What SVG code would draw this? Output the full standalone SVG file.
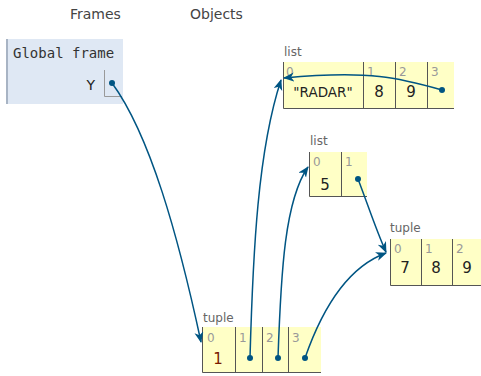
<svg xmlns="http://www.w3.org/2000/svg" width="481" height="376" viewBox="0 0 481 376">
<style>
.hdr{font-family:"DejaVu Sans",Verdana,sans-serif;font-size:14px;fill:#444}
.fname{font-family:"DejaVu Sans Mono","Liberation Mono",monospace;font-size:14px;fill:#333}
.var{font-family:"DejaVu Sans",Verdana,sans-serif;font-size:14px;fill:#222}
.tlabel{font-family:"DejaVu Sans",Verdana,sans-serif;font-size:12px;fill:#666}
.idx{font-family:"DejaVu Sans",Verdana,sans-serif;font-size:12px;fill:#999}
.val{font-family:"DejaVu Sans",Verdana,sans-serif;font-size:15px;fill:#222;text-anchor:middle}
.obj{fill:#ffffc6}
.edge{stroke:#555;stroke-width:1;fill:none}
.conn{stroke:#005583;stroke-width:1.5;fill:none;marker-end:url(#ah)}
.dot{fill:#005583}
</style>
<defs>
<marker id="ah" markerUnits="userSpaceOnUse" markerWidth="12" markerHeight="10" refX="10" refY="4.5" orient="auto">
<path d="M0,0 L11,4.5 L0,9 L3,4.5 z" fill="#005583"/>
</marker>
</defs>
<text class="hdr" x="70" y="19">Frames</text>
<text class="hdr" x="190" y="19">Objects</text>

<g id="global-frame">
<rect x="6" y="39" width="117" height="65" fill="#dfe8f4"/>
<line x1="7" y1="39" x2="7" y2="104" stroke="#a8b4c4" stroke-width="2"/>
<text class="fname" x="13" y="58">Global frame</text>
<text class="var" x="95" y="90" text-anchor="end">Y</text>
<path d="M104.5,70 V96.5 H122" stroke="#999" fill="none"/>
</g>

<g id="list-1">
<text class="tlabel" x="284" y="56">list</text>
<rect class="obj" x="283" y="62" width="171" height="47"/>
<path class="edge" d="M283.5,62 V108.5 H454 M363.5,62 V109 M395.5,62 V109 M427.5,62 V109"/>
<text class="idx" x="286" y="76">0</text>
<text class="idx" x="367" y="76">1</text>
<text class="idx" x="399" y="76">2</text>
<text class="idx" x="431" y="76">3</text>
<text class="val" x="323" y="97" style="font-size:13.5px">"RADAR"</text>
<text class="val" x="379" y="97">8</text>
<text class="val" x="411" y="97">9</text>
</g>

<g id="list-2">
<text class="tlabel" x="310" y="145">list</text>
<rect class="obj" x="309" y="152" width="58" height="45"/>
<path class="edge" d="M309.5,152 V196.5 H367 M341.5,152 V197"/>
<text class="idx" x="313" y="166">0</text>
<text class="idx" x="345" y="166">1</text>
<text class="val" x="325" y="190">5</text>
</g>

<g id="tuple-1">
<text class="tlabel" x="390" y="232">tuple</text>
<rect class="obj" x="390" y="239" width="92" height="47"/>
<path class="edge" d="M390.5,239 V285.5 H482 M421.5,239 V286 M452.5,239 V286"/>
<text class="idx" x="394" y="253">0</text>
<text class="idx" x="425" y="253">1</text>
<text class="idx" x="456" y="253">2</text>
<text class="val" x="405" y="273">7</text>
<text class="val" x="436" y="273">8</text>
<text class="val" x="467" y="273">9</text>
</g>

<g id="tuple-2">
<text class="tlabel" x="203" y="322">tuple</text>
<rect class="obj" x="202" y="327" width="119" height="46"/>
<path class="edge" d="M202.5,327 V372.5 H321 M235.5,327 V373 M262.5,327 V373 M288.5,327 V373"/>
<text class="idx" x="207" y="342">0</text>
<text class="idx" x="239" y="342">1</text>
<text class="idx" x="266" y="342">2</text>
<text class="idx" x="292" y="342">3</text>
<text class="val" x="218" y="364" style="fill:#7a1a00">1</text>
</g>

<g id="connectors">
<circle class="dot" cx="112" cy="83" r="3"/>
<path class="conn" d="M112,83 C150,135 178,235 201,342"/>
<circle class="dot" cx="250" cy="358" r="3"/>
<path class="conn" d="M250,358 C253,250 258,150 281,80"/>
<circle class="dot" cx="278" cy="358" r="3"/>
<path class="conn" d="M278,358 C281,270 285,200 308,167"/>
<circle class="dot" cx="305" cy="358" r="3"/>
<path class="conn" d="M305,358 C320,315 345,268 386,253"/>
<circle class="dot" cx="358" cy="179" r="3"/>
<path class="conn" d="M358,179 C368,205 376,230 386,252"/>
<circle class="dot" cx="442" cy="90" r="3"/>
<path class="conn" d="M442,90 C400,78 370,70 284,78"/>
</g>
</svg>
